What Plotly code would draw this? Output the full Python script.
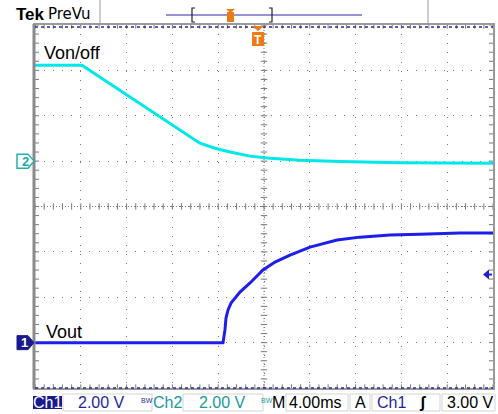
import plotly.graph_objects as go

# ---- data (time in ms, volts) ----
ch2_t = [-20.0, -15.9, -5.6, -4.28, -2.97, -1.22, 0.52, 3.14, 6.64, 11.88, 20.0]
ch2_v = [4.23, 4.23, 0.79, 0.57, 0.40, 0.22, 0.13, 0.04, -0.02, -0.07, -0.09]

ch1_t = [-20.0, -3.58, -3.41, -3.32, -3.14, -2.88, -2.53, -2.10, -1.22, -0.09, 0.96,
         2.27, 4.02, 6.38, 8.38, 11.0, 13.6, 17.1, 20.0]
ch1_v = [0.0, 0.0, 0.56, 1.08, 1.44, 1.74, 1.96, 2.23, 2.63, 3.20, 3.55,
         3.86, 4.21, 4.52, 4.65, 4.74, 4.78, 4.83, 4.83]

volts_per_div = 2.0
ch1_offset_div = -3.0
ch2_offset_div = 1.0
trigger_level_v = 3.0
trigger_pos_ms = -0.52

status_items = ["Ch1", "2.00 V", "Ch2", "2.00 V", "M", "4.00ms", "A", "Ch1", "3.00 V"]

# ---- geometry helpers ----
W, H = 498, 414
L, R, T, B = 35, 493, 25, 388


def px(x):
    return (x - L) / (R - L)


def py(y):
    return (B - y) / (B - T)


ch1_div = [v / volts_per_div + ch1_offset_div for v in ch1_v]
ch2_div = [v / volts_per_div + ch2_offset_div for v in ch2_v]

fig = go.Figure()
fig.add_trace(go.Scatter(x=ch2_t, y=ch2_div, mode="lines",
                         line=dict(color="rgb(0,232,232)", width=3), hoverinfo="skip"))
fig.add_trace(go.Scatter(x=ch1_t, y=ch1_div, mode="lines",
                         line=dict(color="rgb(30,30,235)", width=3), hoverinfo="skip"))

shapes = []
GRID = "#7a7a7a"
# center cross
shapes.append(dict(type="line", xref="x", yref="y", x0=0, x1=0, y0=-4, y1=4,
                   line=dict(color=GRID, width=1, dash="1px,2px"), layer="below"))
shapes.append(dict(type="line", xref="x", yref="y", x0=-20, x1=20, y0=0, y1=0,
                   line=dict(color=GRID, width=1, dash="1px,2px"), layer="below"))
for k in range(-25, 26):
    xx = k * 0.8
    shapes.append(dict(type="line", xref="x", yref="y", x0=xx, x1=xx, y0=-0.07, y1=0.07,
                       line=dict(color=GRID, width=1), layer="below"))
    shapes.append(dict(type="line", xref="x", yref="y", x0=xx, x1=xx, y0=3.92, y1=4,
                       line=dict(color=GRID, width=1), layer="below"))
    shapes.append(dict(type="line", xref="x", yref="y", x0=xx, x1=xx, y0=-4, y1=-3.92,
                       line=dict(color=GRID, width=1), layer="below"))
for k in range(-20, 21):
    yy = k * 0.2
    shapes.append(dict(type="line", xref="x", yref="y", x0=-0.28, x1=0.28, y0=yy, y1=yy,
                       line=dict(color=GRID, width=1), layer="below"))
    shapes.append(dict(type="line", xref="x", yref="y", x0=19.65, x1=20, y0=yy, y1=yy,
                       line=dict(color=GRID, width=1), layer="below"))
    shapes.append(dict(type="line", xref="x", yref="y", x0=-20, x1=-19.65, y0=yy, y1=yy,
                       line=dict(color=GRID, width=1), layer="below"))

# frame
shapes.append(dict(type="rect", xref="paper", yref="paper", x0=px(L - 1), x1=px(R + 1),
                   y0=py(B + 1), y1=py(T - 1), line=dict(color="#9a9a9a", width=2)))
shapes.append(dict(type="line", xref="paper", yref="paper", x0=px(L - 1), x1=px(L - 1),
                   y0=py(B + 1), y1=py(T - 1), line=dict(color="#8a8a8a", width=3)))
# blue dotted edges
for yy in (T + 2, B):
    shapes.append(dict(type="line", xref="paper", yref="paper", x0=0, x1=1, y0=py(yy), y1=py(yy),
                       line=dict(color="#2a2a9a", width=1.5, dash="3px,3px")))

# top bar separators
for xx in (100, 428):
    shapes.append(dict(type="line", xref="paper", yref="paper", x0=px(xx), x1=px(xx),
                       y0=py(0), y1=py(T - 1), line=dict(color="#9a9a9a", width=1)))
shapes.append(dict(type="line", xref="paper", yref="paper", x0=px(166), x1=px(362),
                   y0=py(15), y1=py(15), line=dict(color="#2a2ab0", width=1.2)))
# brackets
for xa, xb in ((195, 192), (269, 272)):
    shapes.append(dict(type="path", xref="paper", yref="paper",
                       path=f"M{px(xa)},{py(8)} L{px(xb)},{py(8)} L{px(xb)},{py(22)} L{px(xa)},{py(22)}",
                       line=dict(color="#222", width=1.2)))
# small orange T in top bar
shapes.append(dict(type="rect", xref="paper", yref="paper", x0=px(227), x1=px(234), y0=py(22), y1=py(12),
                   fillcolor="#f07a12", line=dict(width=0)))
shapes.append(dict(type="path", xref="paper", yref="paper",
                   path=f"M{px(226)},{py(9)} L{px(235)},{py(9)} L{px(230.5)},{py(13)} Z",
                   fillcolor="#f07a12", line=dict(width=0)))

# trigger position marker (orange T) at top of graticule
tx = L + (trigger_pos_ms + 20) / 40 * (R - L)
shapes.append(dict(type="path", xref="paper", yref="paper",
                   path=f"M{px(tx-6)},{py(26)} L{px(tx+6)},{py(26)} L{px(tx)},{py(31)} Z",
                   fillcolor="#f07a12", line=dict(width=0)))
shapes.append(dict(type="rect", xref="paper", yref="paper", x0=px(tx - 6), x1=px(tx + 6),
                   y0=py(46), y1=py(32), fillcolor="#f07a12", line=dict(width=0)))

# channel ground markers
def marker_path(yc):
    return (f"M{px(17)},{py(yc-7)} L{px(28)},{py(yc-7)} L{px(34)},{py(yc)} "
            f"L{px(28)},{py(yc+7)} L{px(17)},{py(yc+7)} Z")

ch2_y = (T + B) / 2 - ch2_offset_div * (B - T) / 8
ch1_y = (T + B) / 2 - ch1_offset_div * (B - T) / 8
shapes.append(dict(type="path", xref="paper", yref="paper", path=marker_path(ch2_y),
                   fillcolor="white", line=dict(color="#20b0b0", width=1.5)))
shapes.append(dict(type="path", xref="paper", yref="paper", path=marker_path(ch1_y),
                   fillcolor="#1a1a8c", line=dict(color="#1a1a8c", width=1)))

# trigger level arrow on right
trig_y = (T + B) / 2 - (trigger_level_v / volts_per_div + ch1_offset_div) * (B - T) / 8
shapes.append(dict(type="path", xref="paper", yref="paper",
                   path=f"M{px(483)},{py(trig_y)} L{px(489)},{py(trig_y-5)} L{px(489)},{py(trig_y+5)} Z",
                   fillcolor="#2020d0", line=dict(width=0)))
shapes.append(dict(type="line", xref="paper", yref="paper", x0=px(488), x1=px(492),
                   y0=py(trig_y), y1=py(trig_y), line=dict(color="#2020d0", width=2)))

# status bar boxes
shapes.append(dict(type="rect", xref="paper", yref="paper", x0=px(33), x1=px(62), y0=py(409), y1=py(396),
                   fillcolor="#1a1a8c", line=dict(width=0)))
for xa, xb in ((63, 152), (183, 263), (286, 348), (350, 370), (372, 440), (442, 495)):
    shapes.append(dict(type="rect", xref="paper", yref="paper", x0=px(xa), x1=px(xb), y0=py(411), y1=py(394),
                       line=dict(color="#d4d4d4", width=1)))

annotations = []


def txt(x, y, s, size=16, color="black", anchor="left", bold=False, family="Liberation Sans, Arial, sans-serif"):
    annotations.append(dict(x=px(x), y=py(y), xref="paper", yref="paper", text=(f"<b>{s}</b>" if bold else s),
                            showarrow=False, xanchor=anchor, yanchor="middle",
                            font=dict(size=size, color=color, family=family)))


txt(42, 53, "Von/off", size=18)
txt(44, 332, "Vout", size=18)
txt(14, 14, "Tek", size=17, bold=True)
txt(46, 14, "PreVu", size=15, family="DejaVu Sans, sans-serif")
txt(tx, 39.5, "T", size=12, color="white", anchor="center", bold=True)
txt(25, ch2_y, "2", size=13, color="#20a8a8", anchor="center", bold=True)
txt(24, ch1_y, "1", size=13, color="white", anchor="center", bold=True)

SB = 402.5
txt(47.5, SB, status_items[0], size=16, color="white", anchor="center")
txt(101, SB, status_items[1], size=16, color="#1f1f9a", anchor="center")
txt(147, SB - 2, "BW", size=7, color="#1f1f9a", anchor="center")
txt(167.5, SB, status_items[2], size=16, color="#1a9a9a", anchor="center")
txt(222, SB, status_items[3], size=16, color="#1a9a9a", anchor="center")
txt(267, SB - 2, "BW", size=7, color="#1a9a9a", anchor="center")
txt(278, SB, status_items[4], size=16, color="black", anchor="center")
txt(315, SB, status_items[5], size=16, color="black", anchor="center")
txt(360, SB, status_items[6], size=16, color="black", anchor="center")
txt(391, SB, status_items[7], size=16, color="#1f1f9a", anchor="center")
txt(422, SB, "ʃ", size=16, color="black", anchor="center", bold=True)
txt(470, SB, status_items[8], size=16, color="black", anchor="center")

fig.update_layout(
    width=W, height=H,
    margin=dict(l=L, r=W - R, t=T, b=H - B, pad=0),
    paper_bgcolor="white", plot_bgcolor="white",
    showlegend=False,
    shapes=shapes, annotations=annotations,
    xaxis=dict(range=[-20, 20], dtick=4, tick0=-20, showgrid=True, gridcolor=GRID, gridwidth=1,
               griddash="1px,8.16px", zeroline=False, showticklabels=False, ticks="", showline=False,
               fixedrange=True),
    yaxis=dict(range=[-4, 4], dtick=1, tick0=-4, showgrid=True, gridcolor=GRID, gridwidth=1,
               griddash="1px,8.08px", zeroline=False, showticklabels=False, ticks="", showline=False,
               fixedrange=True),
)

fig.write_html("out.html", config={"displayModeBar": False},
               post_script="document.body.style.margin='0px';document.body.style.overflow='hidden';")
